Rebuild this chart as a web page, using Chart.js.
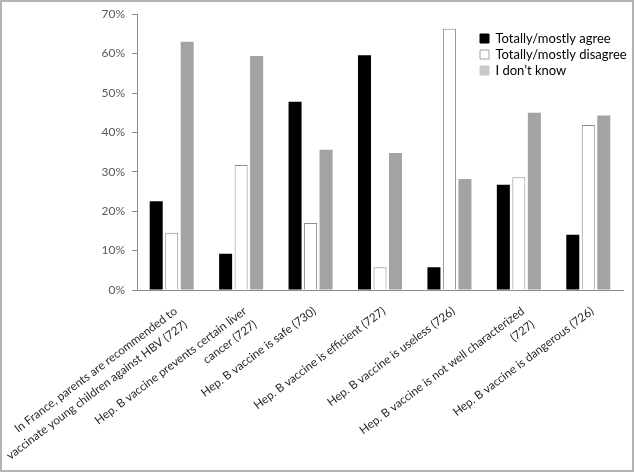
<!DOCTYPE html>
<html>
<head>
<meta charset="utf-8">
<script src="https://cdn.jsdelivr.net/npm/chart.js@4/dist/chart.umd.min.js"></script>
<style>
  html, body { margin: 0; padding: 0; background: #fff; }
  #wrap { position: relative; width: 635px; height: 472px; }
  #frame { position: absolute; left: 0; top: 0; width: 634px; height: 472px; box-sizing: border-box; border: 2px solid #b4b4b4; pointer-events: none; }
  canvas { position: absolute; left: 0; top: 0; }
</style>
</head>
<body>
<div id="wrap">
  <canvas id="c" width="635" height="472"></canvas>
  <div id="frame"></div>
</div>
<script>
const categories = [
  ["In France, parents are recommended to", "vaccinate young children against HBV (727)"],
  ["Hep. B vaccine prevents certain liver", "cancer (727)"],
  "Hep. B vaccine is safe (730)",
  "Hep. B vaccine is efficient (727)",
  "Hep. B vaccine is useless (726)",
  ["Hep. B vaccine is not well characterized", "(727)"],
  "Hep. B vaccine is dangerous (726)"
];
const seriesNames = ["Totally/mostly agree", "Totally/mostly disagree", "I don\u2019t know"];
const agree    = [22.5, 9.2, 47.8, 59.6, 5.8, 26.7, 14.0];
const disagree = [14.5, 31.7, 17.0, 5.8, 66.3, 28.6, 41.9];
const dontKnow = [63.0, 59.4, 35.6, 34.8, 28.2, 45.0, 44.3];
const yTicks = [0, 10, 20, 30, 40, 50, 60, 70];

const FONT = "Lato, 'Open Sans', sans-serif";

const moveLegend = {
  id: 'moveLegend',
  afterLayout(chart) {
    const lg = chart.legend;
    if (!lg) return;
    const w = lg.width, h = lg.height;
    lg.left = 477; lg.top = 29;
    lg.right = lg.left + w; lg.bottom = lg.top + h;
  }
};

new Chart(document.getElementById('c'), {
  type: 'bar',
  data: {
    labels: categories,
    datasets: [
      { label: seriesNames[0], data: agree, backgroundColor: '#000000', borderColor: '#000000', borderWidth: 0 },
      { label: seriesNames[1], data: disagree, backgroundColor: '#ffffff', borderColor: '#8c8c8c', borderWidth: 1 },
      { label: seriesNames[2], data: dontKnow, backgroundColor: '#a3a3a6', borderColor: '#a3a3a6', borderWidth: 0 }
    ]
  },
  options: {
    responsive: false,
    animation: false,
    devicePixelRatio: 1,
    layout: { padding: { top: 10, right: 12, bottom: 0, left: 0 } },
    datasets: { bar: { categoryPercentage: 0.67, barPercentage: 0.84 } },
    plugins: {
      tooltip: { enabled: false },
      legend: {
        position: 'chartArea',
        align: 'start',
        labels: {
          boxWidth: 9,
          boxHeight: 9,
          padding: 3,
          color: '#000000',
          font: { family: FONT, size: 13 },
          generateLabels(chart) {
            const fills = ['#000000', '#ffffff', '#c8c8c8'];
            const strokes = ['#000000', '#a0a0a0', '#c8c8c8'];
            return chart.data.datasets.map((d, i) => ({
              text: d.label, fillStyle: fills[i], strokeStyle: strokes[i], lineWidth: 1,
              hidden: false, datasetIndex: i, fontColor: '#000000'
            }));
          }
        }
      }
    },
    scales: {
      x: {
        grid: { display: false, drawTicks: false },
        border: { display: true, color: '#8c8c8c', width: 1 },
        ticks: {
          autoSkip: false,
          minRotation: 37,
          maxRotation: 37,
          padding: 13,
          labelOffset: 4,
          color: '#262626',
          font: { family: FONT, size: 11.7, lineHeight: 1.43 }
        },
        afterFit(scale) {
          scale.height = 182;
          scale.paddingLeft = 0;
          scale.paddingRight = 0;
        }
      },
      y: {
        min: 0, max: 70,
        afterBuildTicks(scale) { scale.ticks = yTicks.map(v => ({ value: v })); },
        grid: { display: true, drawOnChartArea: false, drawTicks: true, tickLength: 5, color: '#8c8c8c' },
        border: { display: true, color: '#8c8c8c', width: 1 },
        ticks: {
          padding: 7,
          color: '#595959',
          font: { family: FONT, size: 12 },
          callback: v => v + '%'
        },
        afterFit(scale) { scale.width = 137; }
      }
    }
  },
  plugins: [moveLegend]
});
</script>
</body>
</html>
